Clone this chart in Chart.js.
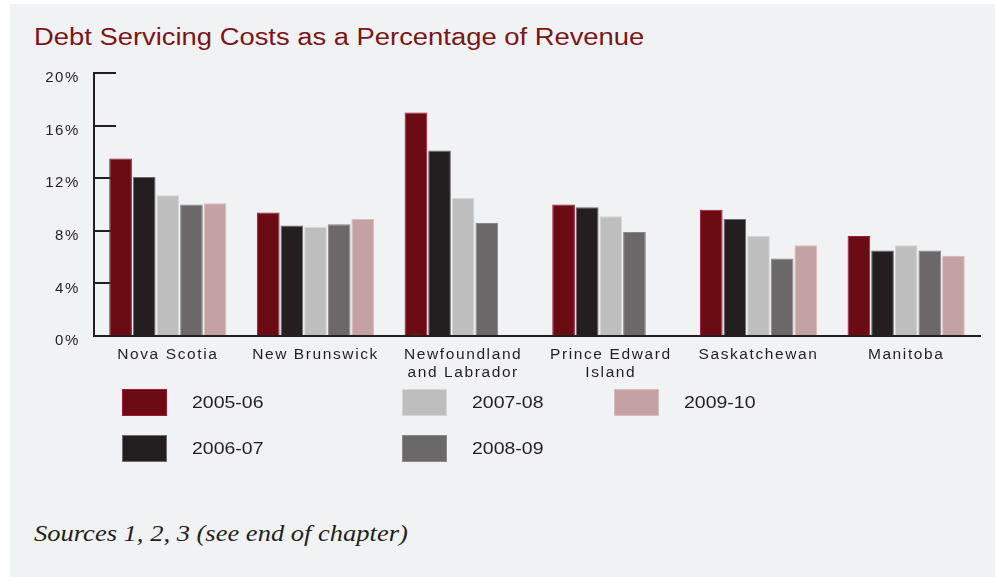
<!DOCTYPE html>
<html>
<head>
<meta charset="utf-8">
<script src="https://cdn.jsdelivr.net/npm/chart.js@4/dist/chart.umd.min.js"></script>
<style>
  html, body { margin:0; padding:0; background:#fff; }
  body { width:995px; height:577px; position:relative; overflow:hidden; font-family:"Liberation Sans", Arial, sans-serif; }
  #panel { position:absolute; left:10px; top:4px; right:0; bottom:0; background:#f1f2f4; }
  #title { position:absolute; left:34px; top:26px; font-size:23.5px; line-height:23.5px; color:#7a1619;
           white-space:nowrap; transform:scaleX(1.165); transform-origin:0 0; }
  #chartBox { position:absolute; left:0; top:0; width:995px; height:400px; }
  #legend { position:absolute; left:0; top:0; }
  .lg-box { position:absolute; width:45px; height:27px; box-sizing:border-box; border:1px solid; }
  .lg-text { position:absolute; font-size:16.5px; line-height:16.5px; color:#231f20; white-space:nowrap;
             transform:scaleX(1.18); transform-origin:0 50%; }
  #source { position:absolute; left:34px; top:521px; font-family:"Liberation Serif", "Times New Roman", serif;
            font-style:italic; font-size:24px; line-height:24px; color:#231f20; white-space:nowrap;
            transform:scaleX(1.105); transform-origin:0 0; }
</style>
</head>
<body>
<div id="panel"></div>
<div id="title">Debt Servicing Costs as a Percentage of Revenue</div>
<div id="chartBox"><canvas id="debtChart"></canvas></div>
<div id="legend"></div>
<div id="source">Sources 1, 2, 3 (see end of chapter)</div>

<script>
// Provinces along the x axis (multi-line labels as arrays)
const provinces = [
  ["Nova Scotia"],
  ["New Brunswick"],
  ["Newfoundland", "and Labrador"],
  ["Prince Edward", "Island"],
  ["Saskatchewan"],
  ["Manitoba"]
];

// Fiscal years
const years = ["2005-06", "2006-07", "2007-08", "2008-09", "2009-10"];

// Debt servicing costs, % of revenue
const fy2005 = [13.5, 9.4, 17.0, 10.0, 9.6, 7.6];
const fy2006 = [12.1, 8.4, 14.1, 9.8, 8.9, 6.5];
const fy2007 = [10.7, 8.3, 10.5, 9.1, 7.6, 6.9];
const fy2008 = [10.0, 8.5, 8.6, 7.9, 5.9, 6.5];
const fy2009 = [10.1, 8.9, null, null, 6.9, 6.1];

// Y axis range
const yMin = 0, yMax = 20, yStep = 4;

const fills   = ["#6b0c14", "#231f20", "#bebebe", "#6a6868", "#c4a2a3"];
const borders = ["#a3173c", "#6e6c6c", "#d6d6d6", "#8a8888", "#d6bcbd"];
const series  = [fy2005, fy2006, fy2007, fy2008, fy2009];

const ink = "#231f20";

// wider text spacing for the axis labels
const spacing = {
  id: "spacing",
  beforeLayout(chart) { chart.ctx.letterSpacing = "1.6px"; },
  beforeDraw(chart) { chart.ctx.letterSpacing = "1.6px"; }
};

new Chart(document.getElementById("debtChart"), {
  type: "bar",
  data: {
    labels: provinces,
    datasets: years.map((y, i) => ({
      label: y,
      data: series[i],
      backgroundColor: fills[i],
      borderColor: borders[i],
      borderWidth: 1,
      borderSkipped: "start",
      categoryPercentage: 0.8,
      barPercentage: 0.96
    }))
  },
  options: {
    responsive: true,
    maintainAspectRatio: false,
    animation: false,
    layout: { padding: { left: 0, top: 73, right: 15, bottom: 20 } },
    plugins: {
      legend: { display: false },
      tooltip: { enabled: false }
    },
    scales: {
      x: {
        offset: true,
        grid: { offset: false, drawOnChartArea: false, drawTicks: true, tickLength: -6, color: ink, lineWidth: 2 },
        border: { display: true, color: ink, width: 2 },
        ticks: {
          color: ink,
          padding: 16,
          maxRotation: 0,
          autoSkip: false,
          font: { family: "'Liberation Sans', Arial, sans-serif", size: 15.5, lineHeight: 1.13 }
        },
        afterFit(scale) { scale.height = 44; }
      },
      y: {
        min: yMin,
        max: yMax,
        grid: { drawOnChartArea: false, drawTicks: true, tickLength: -22, color: ink, lineWidth: 2 },
        border: { display: true, color: ink, width: 2 },
        ticks: {
          stepSize: yStep,
          color: ink,
          padding: 36,
          labelOffset: 5,
          font: { family: "'Liberation Sans', Arial, sans-serif", size: 15 },
          callback: v => v + "%"
        },
        afterFit(scale) { scale.width = 94; }
      }
    }
  },
  plugins: [spacing]
});

// Legend: three columns, filled top to bottom
const legendCols = [122, 402, 614];
const legendRows = [389, 435];
const legend = document.getElementById("legend");
years.forEach((y, i) => {
  const col = Math.floor(i / 2), row = i % 2;
  const box = document.createElement("div");
  box.className = "lg-box";
  box.style.left = legendCols[col] + "px";
  box.style.top = legendRows[row] + "px";
  box.style.background = fills[i];
  box.style.borderColor = borders[i];
  legend.appendChild(box);

  const txt = document.createElement("div");
  txt.className = "lg-text";
  txt.textContent = y;
  txt.style.left = (legendCols[col] + 70) + "px";
  txt.style.top = (legendRows[row] + 5) + "px";
  legend.appendChild(txt);
});
</script>
</body>
</html>
